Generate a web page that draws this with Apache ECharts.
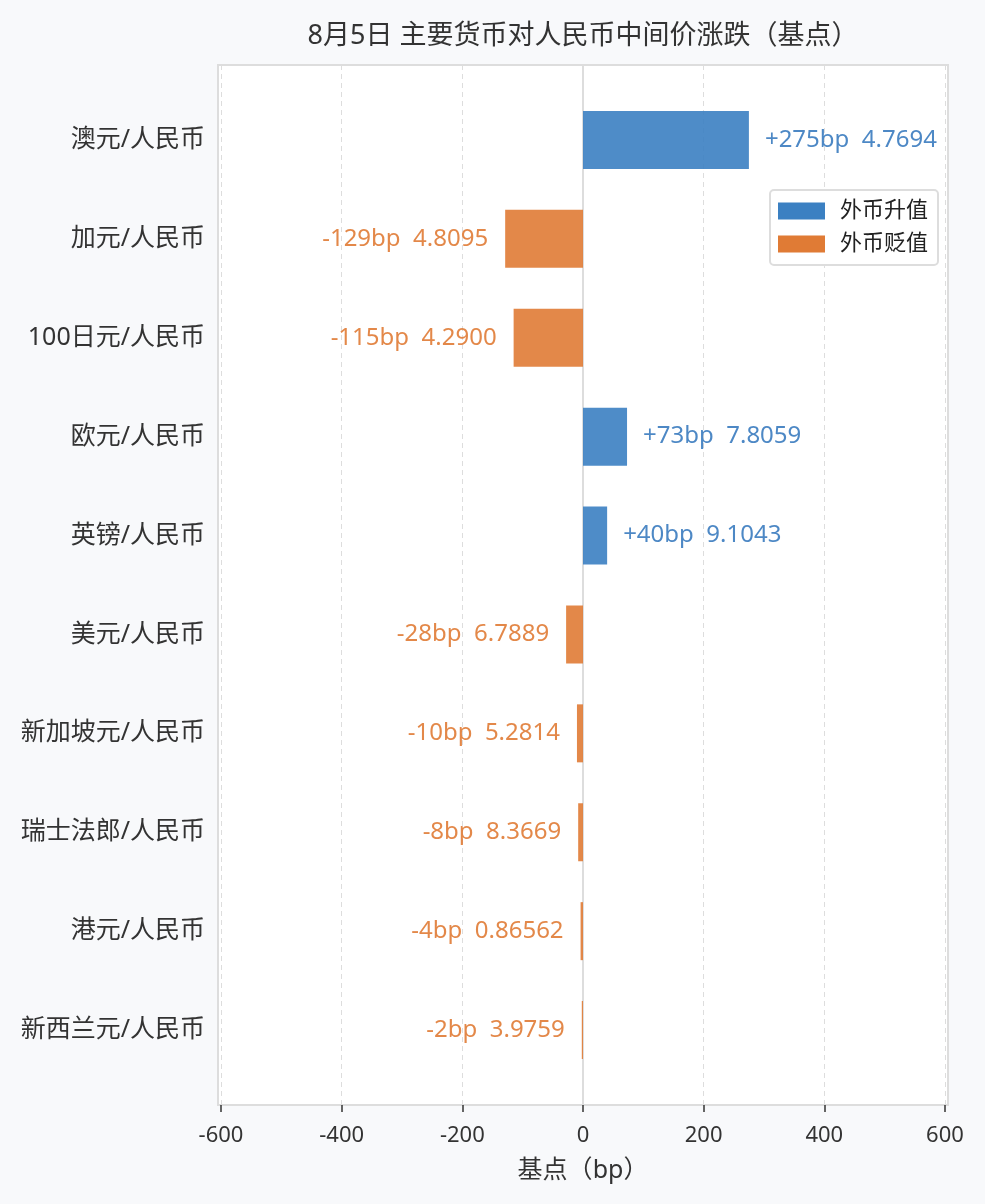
<!DOCTYPE html>
<html>
<head>
<meta charset="utf-8">
<script src="https://cdn.jsdelivr.net/npm/echarts@6/dist/echarts.min.js"></script>
<style>
html,body{margin:0;padding:0;background:#f8f9fb;}
#c{width:985px;height:1204px;}
</style>
</head>
<body>
<div id="c"></div>
<script>
const categories = ['澳元/人民币','加元/人民币','100日元/人民币','欧元/人民币','英镑/人民币','美元/人民币','新加坡元/人民币','瑞士法郎/人民币','港元/人民币','新西兰元/人民币'];
const bpChange = [275, -129, -115, 73, 40, -28, -10, -8, -4, -2];
const midRate = ['4.7694','4.8095','4.2900','7.8059','9.1043','6.7889','5.2814','8.3669','0.86562','3.9759'];
const xTicks = [-600, -400, -200, 0, 200, 400, 600];
const seriesNames = ['外币升值', '外币贬值'];

const FONT = '"Noto Sans","Noto Sans CJK SC",sans-serif';
const BLUE = '#3b80c2', ORANGE = '#e07b35';
const BLUE_T = '#3a7bbf', ORANGE_T = '#e07b35';

const upData = bpChange.map(v => v > 0 ? v : '-');
const downData = bpChange.map(v => v < 0 ? v : '-');
function fmt(p) {
  const v = bpChange[p.dataIndex];
  return (v > 0 ? '+' : '') + v + 'bp  ' + midRate[p.dataIndex];
}

const chart = echarts.init(document.getElementById('c'), null, {renderer: 'canvas'});
chart.setOption({
  backgroundColor: '#f8f9fb',
  animation: false,
  textStyle: {fontFamily: FONT},
  title: {
    text: '8月5日 主要货币对人民币中间价涨跌（基点）',
    left: 578, top: 18, textAlign: 'center',
    textStyle: {fontFamily: FONT, fontSize: 27, fontWeight: 'normal', color: '#333'}
  },
  legend: {
    data: seriesNames,
    orient: 'vertical',
    left: 770, top: 190,
    icon: 'rect',
    itemWidth: 47, itemHeight: 17, itemGap: 11,
    padding: [10, 10, 10, 8],
    backgroundColor: '#fff',
    borderColor: '#dddddd', borderWidth: 2, borderRadius: 4,
    textStyle: {fontFamily: FONT, fontSize: 22, color: '#222', padding: [0, 0, 0, 10]},
    itemStyle: {opacity: 1}
  },
  grid: [
    {left: 218, right: 37, top: 65, bottom: 99, show: true, backgroundColor: '#fff', borderColor: '#dddddd', borderWidth: 2, containLabel: false},
    {left: 218, right: 37, top: 90.5, bottom: 124.5, containLabel: false}
  ],
  xAxis: [
    {
      gridIndex: 0, type: 'value', min: -605, max: 605,
      name: '基点（bp）', nameLocation: 'middle', nameGap: 53,
      nameTextStyle: {fontFamily: FONT, fontSize: 25, color: '#333'},
      axisLine: {show: false},
      axisTick: {show: true, length: 7, customValues: xTicks, lineStyle: {color: '#333', width: 1.5}},
      axisLabel: {customValues: xTicks, margin: 20, fontFamily: FONT, fontSize: 22, color: '#333'},
      splitLine: {show: true, lineStyle: {color: '#dddddd', type: [5, 4], width: 1}}
    },
    {
      gridIndex: 1, type: 'value', min: -605, max: 605, show: false,
      splitLine: {show: false}
    }
  ],
  yAxis: [
    {
      gridIndex: 0, type: 'value', min: 0, max: 1,
      axisLine: {show: true, onZero: true, lineStyle: {color: '#dddddd', width: 2}},
      axisTick: {show: false}, axisLabel: {show: false}, splitLine: {show: false}
    },
    {
      gridIndex: 1, type: 'category', data: categories, inverse: true,
      axisLine: {show: false, onZero: false},
      axisTick: {show: false},
      axisLabel: {margin: 13, padding: [8, 0, 0, 0], fontFamily: FONT, fontSize: 25, color: '#333'},
      splitLine: {show: false}
    }
  ],
  series: [
    {
      name: seriesNames[0], type: 'bar', xAxisIndex: 1, yAxisIndex: 1,
      data: upData, stack: 'all', barWidth: 58,
      itemStyle: {color: BLUE, opacity: 0.9},
      label: {show: true, position: 'right', distance: 16, padding: [3, 0, 0, 0], formatter: fmt,
        fontFamily: FONT, fontSize: 24, color: BLUE_T}
    },
    {
      name: seriesNames[1], type: 'bar', xAxisIndex: 1, yAxisIndex: 1,
      data: downData, stack: 'all', barWidth: 58,
      itemStyle: {color: ORANGE, opacity: 0.9},
      label: {show: true, position: 'left', distance: 17, padding: [3, 0, 0, 0], formatter: fmt,
        fontFamily: FONT, fontSize: 24, color: ORANGE_T}
    }
  ]
});
</script>
</body>
</html>
